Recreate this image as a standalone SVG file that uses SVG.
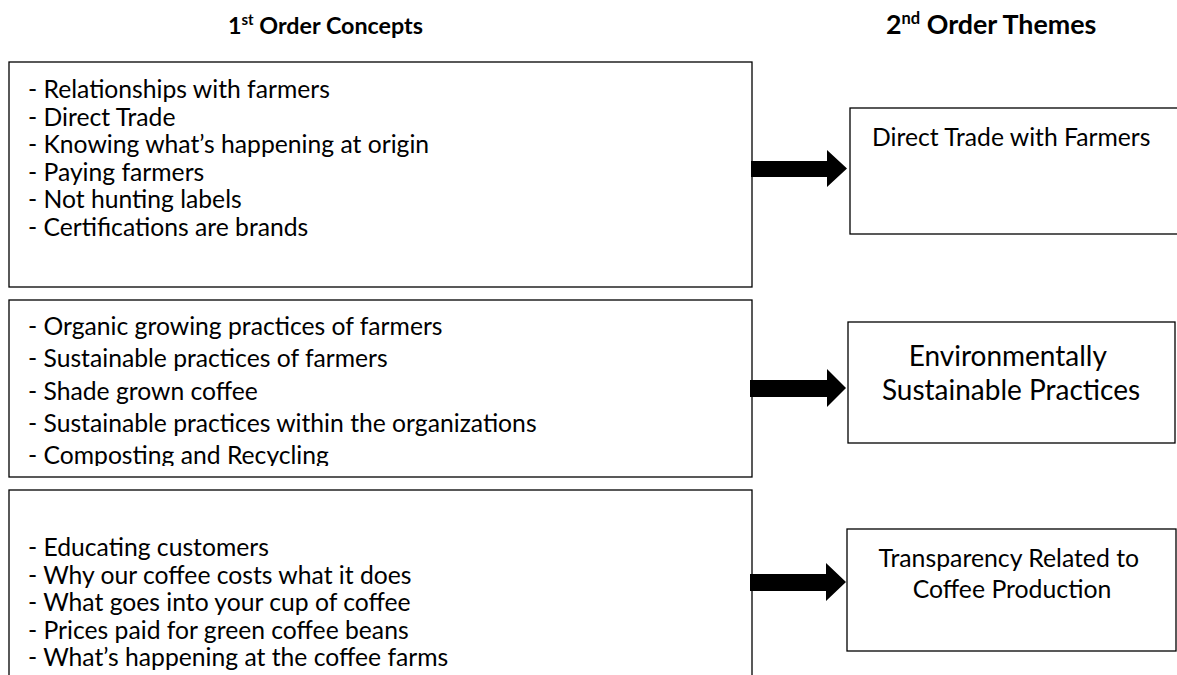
<svg xmlns="http://www.w3.org/2000/svg" width="1177" height="675" viewBox="0 0 1177 675">
  <style>
    .box { fill: #ffffff; stroke: #000000; stroke-width: 1.3; }
    .hdr { font-family: Lato, "Open Sans", sans-serif; font-weight: bold; fill: #000; }
    .item { font-family: Lato, "Open Sans", sans-serif; font-size: 24.7px; fill: #000; }
    .theme { font-family: Lato, "Open Sans", sans-serif; fill: #000; text-anchor: middle; }
    .arrow { fill: #000000; }
  </style>
  <defs>
    <!-- the environment list overflows its box; the last line is cut off -->
    <clipPath id="clip-env">
      <rect x="9" y="300" width="743" height="166"/>
    </clipPath>
  </defs>

  <rect width="1177" height="675" fill="#ffffff"/>

  <!-- column headings -->
  <text class="hdr" font-size="23.3" x="228" y="34">1<tspan font-size="15" dy="-9">st</tspan><tspan dy="9"> Order Concepts</tspan></text>
  <text class="hdr" font-size="26.8" x="886" y="34">2<tspan font-size="16.5" dy="-10">nd</tspan><tspan dy="10"> Order Themes</tspan></text>

  <!-- first-order concept lists -->
  <g id="concepts-direct-trade">
    <rect class="box" x="9" y="62" width="743" height="225"/>
    <text class="item">
      <tspan x="28" y="98">- Relationships with farmers</tspan>
      <tspan x="28" y="125.5">- Direct Trade</tspan>
      <tspan x="28" y="153">- Knowing what’s happening at origin</tspan>
      <tspan x="28" y="180.5">- Paying farmers</tspan>
      <tspan x="28" y="208">- Not hunting labels</tspan>
      <tspan x="28" y="235.5">- Certifications are brands</tspan>
    </text>
  </g>

  <g id="concepts-environment">
    <rect class="box" x="9" y="300" width="743" height="177"/>
    <text class="item" clip-path="url(#clip-env)">
      <tspan x="28" y="335">- Organic growing practices of farmers</tspan>
      <tspan x="28" y="367.25">- Sustainable practices of farmers</tspan>
      <tspan x="28" y="399.5">- Shade grown coffee</tspan>
      <tspan x="28" y="431.75">- Sustainable practices within the organizations</tspan>
      <tspan x="28" y="464">- Composting and Recycling</tspan>
    </text>
  </g>

  <g id="concepts-transparency">
    <rect class="box" x="9" y="490" width="743" height="200"/>
    <text class="item">
      <tspan x="28" y="556">- Educating customers</tspan>
      <tspan x="28" y="583.5">- Why our coffee costs what it does</tspan>
      <tspan x="28" y="611">- What goes into your cup of coffee</tspan>
      <tspan x="28" y="638.5">- Prices paid for green coffee beans</tspan>
      <tspan x="28" y="666">- What’s happening at the coffee farms</tspan>
    </text>
  </g>

  <!-- second-order themes -->
  <g id="theme-direct-trade">
    <rect class="box" x="850" y="108" width="340" height="126"/>
    <text class="item" font-size="25" x="872" y="146">Direct Trade with Farmers</text>
  </g>

  <g id="theme-environment">
    <rect class="box" x="848" y="322" width="327" height="121"/>
    <text class="theme" font-size="28">
      <tspan x="1011" y="366">Environmentally</tspan>
      <tspan x="1011" y="400">Sustainable Practices</tspan>
    </text>
  </g>

  <g id="theme-transparency">
    <rect class="box" x="847" y="529" width="329" height="122"/>
    <text class="theme" font-size="24.8">
      <tspan x="1012" y="567">Transparency Related to</tspan>
      <tspan x="1012" y="598">Coffee Production</tspan>
    </text>
  </g>

  <!-- block arrows linking concepts to themes -->
  <g id="connectors">
    <polygon class="arrow" points="751,161 827,161 827,150 847,168.5 827,187 827,177 751,177"/>
    <polygon class="arrow" points="750,380 827,380 827,369 846,388 827,407 827,397 750,397"/>
    <polygon class="arrow" points="750,574 826,574 826,563 846,582 826,601 826,591 750,591"/>
  </g>
</svg>
